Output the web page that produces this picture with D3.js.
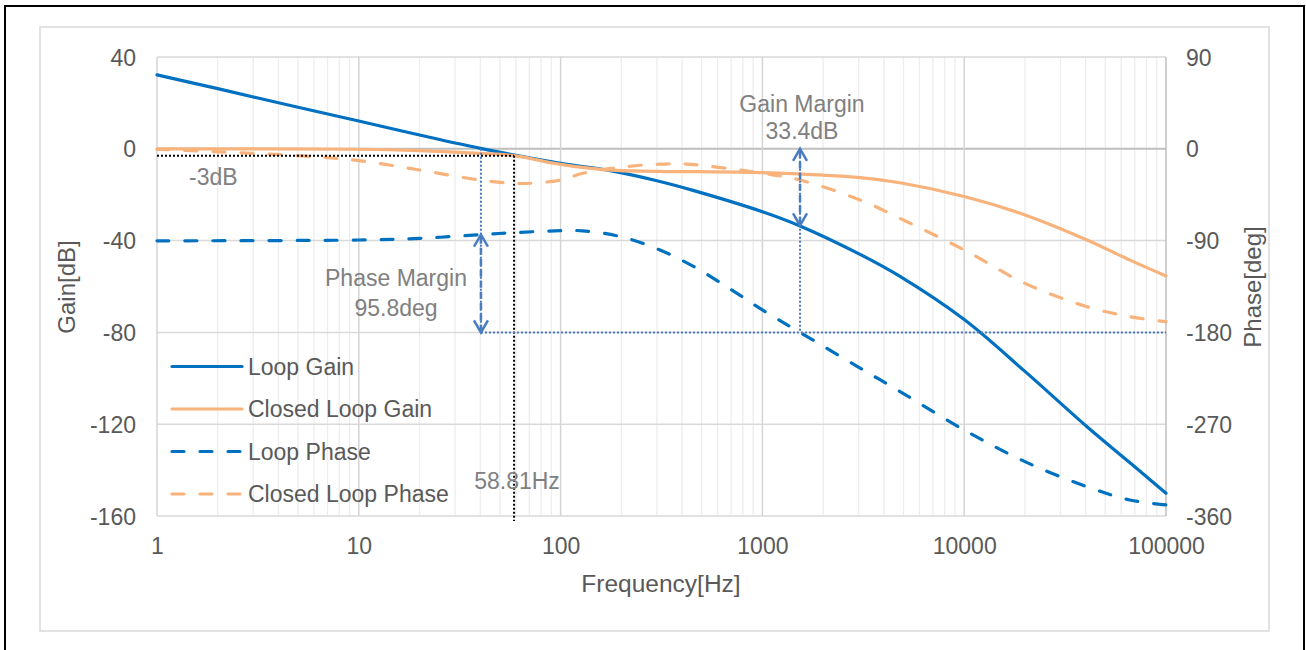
<!DOCTYPE html>
<html><head><meta charset="utf-8">
<script src="https://cdn.jsdelivr.net/npm/d3@7"></script>
<style>
html,body{margin:0;padding:0;background:#fff;}
svg{display:block;font-family:"Liberation Sans",Arial,sans-serif;}
</style></head>
<body>
<svg id="chart" width="1306" height="650"></svg>
<script>
// ---- data ----
const xTicks = [1, 10, 100, 1000, 10000, 100000];
const gainTicks = [40, 0, -40, -80, -120, -160];
const phaseTicks = [90, 0, -90, -180, -270, -360];

const loopGainFreq = [1, 2, 5, 10, 20, 40, 100, 176, 300, 453, 1000, 1536, 3048, 4808, 10000, 20000, 40600, 66300, 100000];
const loopGainDb   = [32.2, 26.2, 18.1, 12.1, 6.0, 0.2, -6.3, -9.5, -13.9, -18.1, -27.4, -33.6, -46.0, -55.6, -74.4, -97.0, -121.1, -136.8, -150.1];

const closedGainFreq = [1, 10, 20, 40, 58.81, 100, 176, 300, 1000, 3048, 4808, 10000, 20000, 40600, 66300, 100000];
const closedGainDb   = [0, -0.2, -0.8, -2.0, -3.0, -6.8, -9.3, -9.8, -10.4, -12.6, -14.8, -20.8, -28.8, -39.7, -48.5, -55.4];

const loopPhaseFreq = [1, 10, 20, 40, 58.81, 100, 129, 197, 300, 453, 700, 1000, 1536, 3048, 4810, 10000, 20000, 40600, 66300, 100000];
const loopPhaseDeg  = [-90.2, -89.4, -87.8, -84.2, -82.2, -80.3, -80.4, -86.0, -98.0, -115.0, -138.0, -158.0, -180.0, -215.0, -238.0, -275.7, -306.7, -331.3, -344.3, -349.2];

const closedPhaseFreq = [1, 5, 10, 20, 40, 63, 100, 129, 197, 300, 420, 1000, 1536, 3048, 4810, 10000, 20000, 40600, 66300, 100000];
const closedPhaseDeg  = [-0.5, -6.7, -11.6, -20.8, -30.6, -34.0, -30.6, -24.0, -18.2, -15.2, -15.0, -24.0, -30.6, -50.2, -68.2, -99.2, -131.9, -154.8, -164.6, -169.5];

const seriesNames = ["Loop Gain", "Closed Loop Gain", "Loop Phase", "Closed Loop Phase"];

// annotation values
const f3dB = 58.81, pmFreq = 40.3, gmFreq = 1536, phaseMargin = 95.8, gainMargin = 33.4;

// ---- drawing ----
const svg = d3.select("#chart");
const BLUE = "#0070C0", ORANGE = "#F8B37C", TXT = "#595959", ANN = "#808080", ABLUE = "#4A7CC2";

// outer frames
svg.append("path").attr("d", "M5,660 L5,6 L1304,6 L1304,660").attr("fill", "none").attr("stroke", "#000").attr("stroke-width", 2);
svg.append("rect").attr("x", 40).attr("y", 27).attr("width", 1229).attr("height", 604)
  .attr("fill", "none").attr("stroke", "#d9d9d9").attr("stroke-width", 1.5);

const x = d3.scaleLog().domain([1, 1e5]).range([157, 1166]);
const yL = d3.scaleLinear().domain([-160, 40]).range([516, 57]);
const yR = d3.scaleLinear().domain([-360, 90]).range([516, 57]);

// minor vertical gridlines
const minor = [];
for (let d = 1; d < 1e5; d *= 10) for (let k = 2; k <= 9; k++) minor.push(d * k);
svg.append("g").selectAll("line").data(minor).join("line")
  .attr("x1", d => x(d)).attr("x2", d => x(d)).attr("y1", 57).attr("y2", 516)
  .attr("stroke", "#ededed").attr("stroke-width", 1.3);
// horizontal gridlines
svg.append("g").selectAll("line").data(gainTicks).join("line")
  .attr("x1", 157).attr("x2", 1166).attr("y1", d => yL(d)).attr("y2", d => yL(d))
  .attr("stroke", d => d === 0 ? "#bfbfbf" : "#d9d9d9").attr("stroke-width", d => d === 0 ? 2 : 1.5);
// major vertical gridlines
svg.append("g").selectAll("line").data(xTicks).join("line")
  .attr("x1", d => x(d)).attr("x2", d => x(d)).attr("y1", 57).attr("y2", 516)
  .attr("stroke", d => (d === 1e5 ? "#bfbfbf" : "#d4d4d4")).attr("stroke-width", 1.5);

// axes
const fmt = d => String(d);
function styleAxis(g) {
  g.select(".domain").remove();
  g.selectAll(".tick line").remove();
  g.selectAll("text").attr("fill", TXT).attr("font-size", 23)
    .attr("font-family", '"Liberation Sans",Arial,sans-serif');
}
svg.append("g").attr("transform", "translate(157,0)")
  .call(d3.axisLeft(yL).tickValues(gainTicks).tickSize(0).tickPadding(21).tickFormat(fmt))
  .call(styleAxis).selectAll("text").attr("dy", "0.35em");
svg.append("g").attr("transform", "translate(1166,0)")
  .call(d3.axisRight(yR).tickValues(phaseTicks).tickSize(0).tickPadding(20).tickFormat(fmt))
  .call(styleAxis).selectAll("text").attr("dy", "0.35em");
svg.append("g").attr("transform", "translate(0,516)")
  .call(d3.axisBottom(x).tickValues(xTicks).tickSize(0).tickPadding(30).tickFormat(fmt))
  .call(styleAxis).selectAll("text").attr("dy", "0.35em");

// axis titles
svg.append("text").attr("transform", "translate(66,287) rotate(-90)").attr("text-anchor", "middle")
  .attr("dominant-baseline", "central").attr("fill", TXT).attr("font-size", 24).text("Gain[dB]");
svg.append("text").attr("transform", "translate(1252,287) rotate(-90)").attr("text-anchor", "middle")
  .attr("dominant-baseline", "central").attr("fill", TXT).attr("font-size", 24).text("Phase[deg]");
svg.append("text").attr("x", 661).attr("y", 583).attr("text-anchor", "middle")
  .attr("dominant-baseline", "central").attr("fill", TXT).attr("font-size", 24.5).text("Frequency[Hz]");

// series
const curve = d3.curveCatmullRom.alpha(0.5);
const lineL = d3.line().x(d => x(d[0])).y(d => yL(d[1])).curve(curve);
const lineR = d3.line().x(d => x(d[0])).y(d => yR(d[1])).curve(curve);
const zip = (a, b) => a.map((v, i) => [v, b[i]]);

const series = [
  {d: lineL(zip(loopGainFreq, loopGainDb)), c: BLUE, dash: null},
  {d: lineL(zip(closedGainFreq, closedGainDb)), c: ORANGE, dash: null},
  {d: lineR(zip(loopPhaseFreq, loopPhaseDeg)), c: BLUE, dash: "12 16"},
  {d: lineR(zip(closedPhaseFreq, closedPhaseDeg)), c: ORANGE, dash: "12 16"}
];
series.forEach(s => {
  svg.append("path").attr("d", s.d).attr("fill", "none").attr("stroke", s.c).attr("stroke-width", 3.2)
    .attr("stroke-linecap", "round").attr("stroke-linejoin", "round")
    .attr("stroke-dasharray", s.dash);
});

// annotations: -3dB black dotted
const dotted = (x1, y1, x2, y2, col) => svg.append("line").attr("x1", x1).attr("y1", y1).attr("x2", x2).attr("y2", y2)
  .attr("stroke", col).attr("stroke-width", 2).attr("stroke-dasharray", "2 2");
dotted(x(1), yL(-3), x(f3dB), yL(-3), "#000");
dotted(x(f3dB), yL(-3), x(f3dB), 521, "#000");
// blue dotted guides
dotted(x(pmFreq), yL(0), x(pmFreq), yR(-180), ABLUE);
dotted(x(pmFreq), yR(-180), x(1e5), yR(-180), ABLUE);
dotted(x(gmFreq), yL(0), x(gmFreq), yR(-180), ABLUE);

// double arrows
function dblArrow(xx, y1, y2) {
  svg.append("line").attr("x1", xx).attr("x2", xx).attr("y1", y1 + 2).attr("y2", y2 - 2)
    .attr("stroke", ABLUE).attr("stroke-width", 2.5).attr("stroke-dasharray", "7 4");
  svg.append("path").attr("d", `M${xx - 7},${y1 + 12} L${xx},${y1} L${xx + 7},${y1 + 12}`)
    .attr("fill", "none").attr("stroke", ABLUE).attr("stroke-width", 2.5);
  svg.append("path").attr("d", `M${xx - 7},${y2 - 12} L${xx},${y2} L${xx + 7},${y2 - 12}`)
    .attr("fill", "none").attr("stroke", ABLUE).attr("stroke-width", 2.5);
}
dblArrow(x(pmFreq), yR(-180 + phaseMargin), yR(-180));
dblArrow(x(gmFreq), yL(0), yL(-gainMargin));

// annotation texts
const ann = (tx, ty, t, anchor) => svg.append("text").attr("x", tx).attr("y", ty).attr("text-anchor", anchor || "middle")
  .attr("dominant-baseline", "central").attr("fill", ANN).attr("font-size", 23).text(t);
ann(189, 177, "-3dB", "start");
ann(517, 481, f3dB + "Hz");
ann(396, 278, "Phase Margin");
ann(396, 308, phaseMargin + "deg");
ann(802, 104, "Gain Margin");
ann(802, 131, gainMargin + "dB");

// legend
const lg = svg.append("g");
const legY = [366.5, 409, 451.5, 494];
seriesNames.forEach((n, i) => {
  const s = series[i];
  lg.append("line").attr("x1", 172).attr("x2", 242).attr("y1", legY[i]).attr("y2", legY[i])
    .attr("stroke", s.c).attr("stroke-width", 3.2).attr("stroke-linecap", "round")
    .attr("stroke-dasharray", s.dash);
  lg.append("text").attr("x", 248).attr("y", legY[i]).attr("dominant-baseline", "central")
    .attr("fill", TXT).attr("font-size", 23).text(n);
});
</script>
</body></html>
